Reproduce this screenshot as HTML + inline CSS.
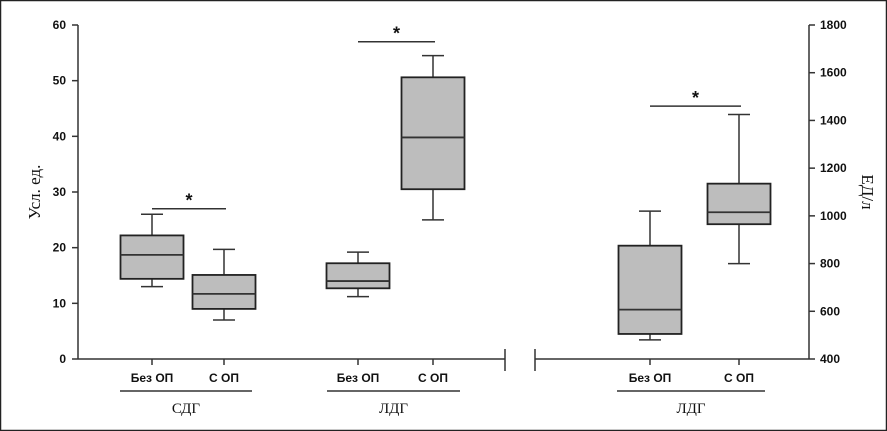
<!DOCTYPE html>
<html><head><meta charset="utf-8"><style>
html,body{margin:0;padding:0;background:#fff}
svg{display:block}
text{font-family:"Liberation Sans",sans-serif;fill:#111}
.serif{font-family:"Liberation Serif","DejaVu Serif",serif}
</style></head><body>
<svg width="887" height="431" viewBox="0 0 887 431">
<rect x="0.5" y="0.5" width="886" height="430" fill="#fff" stroke="#222" stroke-width="1.5"/>
<g id="plot"></g>
</svg>
<script>
const leftTicks=[0,10,20,30,40,50,60];
const rightTicks=[400,600,800,1000,1200,1400,1600,1800];
const catLabels=["Без ОП","С ОП","Без ОП","С ОП","Без ОП","С ОП"];
const catX=[152,224,358,433,650,739];
const catAxis=["left","left","left","left","right","right"];
const whiskerLow=[13,7,11.2,25,480,800];
const q1=[14.4,9,12.7,30.5,505,965];
const median=[18.7,11.7,14,39.8,607,1015];
const q3=[22.2,15.1,17.2,50.6,875,1135];
const whiskerHigh=[26,19.7,19.2,54.5,1020,1425];
const sigLevel=[27,57,1460];
const sigAxis=["left","left","right"];
const sigPairs=[[0,1],[2,3],[4,5]];

const NS="http://www.w3.org/2000/svg";
const g=document.getElementById('plot');
const yL=v=>359-(v-0)*(334/60);
const yR=v=>359-(v-400)*(334/1400);
const Y=(a,v)=>a==="left"?yL(v):yR(v);
function mk(t,a,p){const e=document.createElementNS(NS,t);for(const k in a)e.setAttribute(k,a[k]);(p||g).appendChild(e);return e;}
function line(x1,y1,x2,y2,w){return mk('line',{x1,y1,x2,y2,stroke:'#333','stroke-width':w||1.5});}
function txt(x,y,s,o){const e=mk('text',Object.assign({x,y},o||{}));e.textContent=s;return e;}

let e=line(78,25,78,359);


leftTicks.forEach(v=>{
  const t=line(72,yL(v),78,yL(v));
  
  
  const l=txt(66,yL(v)+4,v,{'text-anchor':'end','font-size':12,'font-weight':'bold'});
  
  
});
e=line(809,25,809,359);


rightTicks.forEach(v=>{
  const t=line(809,yR(v),815,yR(v));
  
  
  const l=txt(820,yR(v)+4,v,{'font-size':12,'font-weight':'bold'});
  
  
});
e=line(78,359,505,359);


e=line(535,359,809,359);


e=line(505,349,505,371);


e=line(535,349,535,371);



e=txt(0,0,"Усл. ед.",{class:'serif','font-size':17,transform:'translate(40,192) rotate(-90)','text-anchor':'middle'});


e=txt(0,0,"ЕД/л",{class:'serif','font-size':17,transform:'translate(862,192) rotate(90)','text-anchor':'middle'});



catX.forEach((x,i)=>{
  const a=catAxis[i],hw=31.5;
  const w1=line(x,Y(a,whiskerLow[i]),x,Y(a,q1[i]));
  
  
  const w2=line(x,Y(a,q3[i]),x,Y(a,whiskerHigh[i]));
  
  
  const c1=line(x-11,Y(a,whiskerLow[i]),x+11,Y(a,whiskerLow[i]));
  
  
  const c2=line(x-11,Y(a,whiskerHigh[i]),x+11,Y(a,whiskerHigh[i]));
  
  
  const b=mk('rect',{x:x-hw,y:Y(a,q3[i]),width:hw*2,height:Y(a,q1[i])-Y(a,q3[i]),fill:'#bdbdbd',stroke:'#222','stroke-width':1.8});
  
  
  const m=line(x-hw,Y(a,median[i]),x+hw,Y(a,median[i]),1.8);
  
  
  const t=line(x,359,x,365);
  
  
  const l=txt(x,382,catLabels[i],{'text-anchor':'middle','font-size':12,'font-weight':'bold'});
  
  
});
sigPairs.forEach((p,k)=>{
  const y=Y(sigAxis[k],sigLevel[k]);
  const x1=catX[p[0]],x2=catX[p[1]]+2;
  const s=line(x1,y,x2,y);
  
  
  const st=txt((x1+x2)/2,y-2,"*",{'text-anchor':'middle','font-size':18,'font-weight':'bold'});
  
  
});
const groups=[["СДГ",120,252],["ЛДГ",327,460],["ЛДГ",617,765]];
groups.forEach(gr=>{
  const l=line(gr[1],391,gr[2],391);
  
  
  const t=txt((gr[1]+gr[2])/2,413,gr[0],{class:'serif','text-anchor':'middle','font-size':15});
  
  
});
</script>
</body></html>
